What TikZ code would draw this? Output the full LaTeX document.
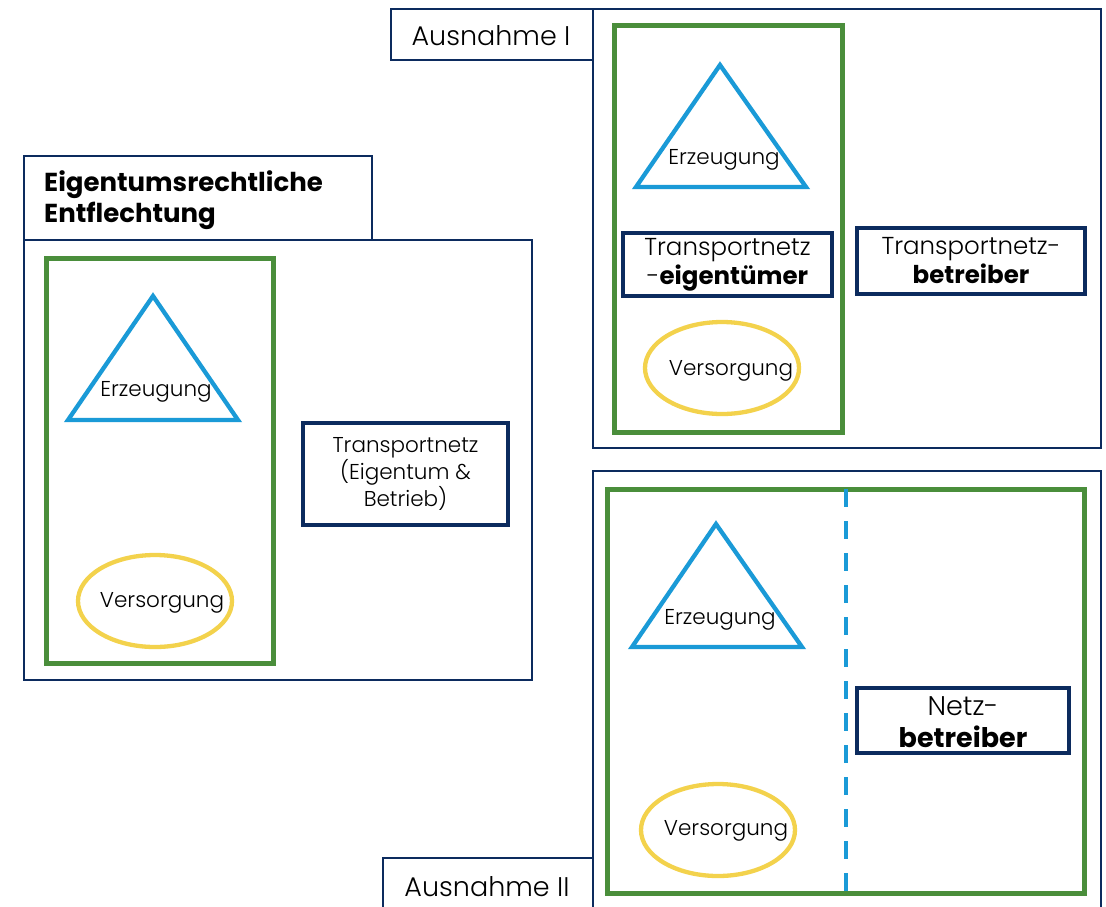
\documentclass[tikz,border=0pt]{standalone}
\usepackage{fontspec}
\setmainfont{Poppins Light}[BoldFont={Poppins Bold}]
\usetikzlibrary{shapes.geometric}
\definecolor{navy}{HTML}{0C2B5E}
\definecolor{grn}{HTML}{4A8E3B}
\definecolor{blu}{HTML}{1A9AD7}
\definecolor{yel}{HTML}{F3D24C}
\tikzset{
  thinbox/.style={draw=navy, line width=1.6pt, rectangle, inner sep=0pt},
  greenbox/.style={draw=grn, line width=5pt, rectangle, inner sep=0pt},
  navybox/.style={draw=navy, line width=4.5pt, fill=white, rectangle, inner sep=0pt, align=center},
  tri/.style={draw=blu, line width=4.3pt, line join=miter},
  oval/.style={draw=yel, line width=4.3pt, ellipse, inner sep=0pt},
  small/.style={font=\fontsize{21.5}{26}\selectfont},
  mid/.style={font=\fontsize{24.5}{29}\selectfont},
  big/.style={font=\fontsize{27}{32}\selectfont},
}
\begin{document}
\begin{tikzpicture}[x=1pt,y=-1pt]
\useasboundingbox (0,0) rectangle (1106,906);
\fill[white] (0,0) rectangle (1106,906);
% ---------- left panel ----------
\node[thinbox, minimum width=508pt, minimum height=440pt] (outerL) at (278,460) {};
\node[thinbox, fill=white, minimum width=348pt, minimum height=84pt] (titleL) at (198,198) {};
\node[anchor=north west, align=left, font=\fontsize{26}{31.5}\selectfont\bfseries, inner sep=0pt] (titleT) at (44,170) {Eigentumsrechtliche\\Entflechtung};
\node[greenbox, minimum width=227pt, minimum height=405pt] (greenL) at (159.5,460.5) {};
\coordinate (tAL) at (153,296);
\coordinate (tBL) at (68,420);
\coordinate (tCL) at (238,420);
\draw[tri] (tAL) -- (tBL) -- (tCL) -- cycle;
\node[small] (erzL) at (156,392) {Erzeugung};
\node[oval, minimum width=154pt, minimum height=92pt] (verL) at (155,601) {};
\node[small] (verLt) at (162,603) {Versorgung};
\node[navybox, minimum width=205pt, minimum height=102pt] (tnL) at (405.5,474) {};
\node[align=center, font=\fontsize{21.5}{24.5}\selectfont] (tnLt) at (405.5,474) {Transportnetz\\(Eigentum \&\\Betrieb)};
% ---------- Ausnahme I ----------
\node[thinbox, minimum width=508pt, minimum height=439pt] (outerA) at (847,228.5) {};
\node[thinbox, fill=white, minimum width=202pt, minimum height=51pt] (labA) at (492,34.5) {};
\node[big] (labAt) at (491,36) {Ausnahme I};
\node[greenbox, minimum width=228pt, minimum height=407pt] (greenA) at (728,228.5) {};
\coordinate (tAA) at (720,65);
\coordinate (tBA) at (636,187);
\coordinate (tCA) at (806,187);
\draw[tri] (tAA) -- (tBA) -- (tCA) -- cycle;
\node[small] (erzA) at (724,160) {Erzeugung};
\node[navybox, minimum width=209pt, minimum height=63pt] (eigA) at (727.5,264.5) {};
\node[mid, align=center] (eigAt) at (727.5,264.5) {Transportnetz\\-\textbf{eigentümer}};
\node[navybox, minimum width=228pt, minimum height=66pt] (betA) at (971,261) {};
\node[mid, align=center] (betAt) at (971,261) {Transportnetz-\\\textbf{betreiber}};
\node[oval, minimum width=154pt, minimum height=92pt] (verA) at (722,368) {};
\node[small] (verAt) at (731,371) {Versorgung};
% ---------- Ausnahme II ----------
\draw[navy, line width=1.6pt] (593,920) |- (1101,471) -- (1101,920);
\node[greenbox, minimum width=477pt, minimum height=404pt] (greenB) at (845.5,691) {};
\coordinate (dTop) at (846,489);
\coordinate (dBot) at (846,893);
\draw[blu, line width=4pt, dash pattern=on 18pt off 14pt] (dTop) -- (dBot);
\draw[navy, line width=1.6pt, fill=white] (383,920) |- (593,858) -- (593,920);
\node[big] (labBt) at (487,887) {Ausnahme II};
\coordinate (tAB) at (716,524);
\coordinate (tBB) at (632,647);
\coordinate (tCB) at (802,647);
\draw[tri] (tAB) -- (tBB) -- (tCB) -- cycle;
\node[small] (erzB) at (720,620) {Erzeugung};
\node[navybox, minimum width=212pt, minimum height=65pt] (netB) at (963,720.5) {};
\node[big, align=center] (netBt) at (963,722) {Netz-\\\textbf{betreiber}};
\node[oval, minimum width=154pt, minimum height=92pt] (verB) at (718,830) {};
\node[small] (verBt) at (726,831) {Versorgung};
\end{tikzpicture}
\end{document}
